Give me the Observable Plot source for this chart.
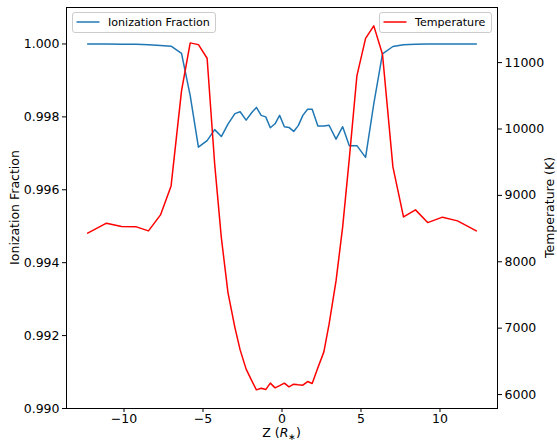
<!DOCTYPE html>
<html>
<head>
<meta charset="utf-8">
<script src="https://cdn.jsdelivr.net/npm/d3@7"></script>
<script src="https://cdn.jsdelivr.net/npm/@observablehq/plot@0.6"></script>
<style>
  html, body { margin: 0; padding: 0; background: #fff; }
  #chart { width: 557px; height: 441px; }
</style>
</head>
<body>
<div id="chart"></div>
<script>
// ---- data ----
const zValues = [-12.30, -11.11, -10.16, -9.22, -8.45, -7.69, -7.02, -6.36, -5.81, -5.29, -4.74, -4.26,
  -3.84, -3.42, -2.98, -2.65, -2.27, -1.91, -1.62, -1.32, -1.03, -0.74, -0.44, -0.15,
  0.15, 0.44, 0.74, 1.03, 1.32, 1.62, 1.91, 2.27, 2.65, 2.98, 3.42, 3.84,
  4.26, 4.74, 5.29, 5.81, 6.36, 7.02, 7.69, 8.45, 9.22, 10.16, 11.11, 12.30];

const ionFraction = [1.00000, 1.00000, 0.99999, 0.99999, 0.99998, 0.99996, 0.99994, 0.99974, 0.99858, 0.99717, 0.99735, 0.99765,
  0.99746, 0.99780, 0.99809, 0.99814, 0.99791, 0.99812, 0.99826, 0.99804, 0.99800, 0.99770, 0.99781, 0.99804,
  0.99773, 0.99771, 0.99760, 0.99776, 0.99804, 0.99821, 0.99821, 0.99775, 0.99775, 0.99777, 0.99739, 0.99773,
  0.99721, 0.99721, 0.99689, 0.99836, 0.99973, 0.99993, 0.99998, 0.99999, 1.00000, 1.00000, 1.00000, 1.00000];

const temperature = [8431, 8581, 8530, 8526, 8465, 8706, 9143, 10574, 11297, 11271, 11066, 9470,
  8364, 7536, 7009, 6673, 6383, 6206, 6071, 6096, 6075, 6172, 6101, 6134,
  6172, 6116, 6157, 6146, 6142, 6196, 6166, 6402, 6643, 7060, 7712, 8526,
  9554, 10800, 11364, 11553, 11126, 9429, 8676, 8782, 8590, 8672, 8616, 8465];

const xTicks = [-10, -5, 0, 5, 10];
const ionTicks = [0.990, 0.992, 0.994, 0.996, 0.998, 1.000];
const tempTicks = [6000, 7000, 8000, 9000, 10000, 11000];

// ---- scales ----
const xDomain = [-13.64, 13.64];
const ionDomain = [0.990, 1.001];
const tempDomain = [5790, 11830];
const toY = t => ionDomain[0] + (t - tempDomain[0]) / (tempDomain[1] - tempDomain[0]) * (ionDomain[1] - ionDomain[0]);
const fromY = y => tempDomain[0] + (y - ionDomain[0]) / (ionDomain[1] - ionDomain[0]) * (tempDomain[1] - tempDomain[0]);

const rows = zValues.map((z, i) => ({z, ion: ionFraction[i], temp: temperature[i]}));
const minus = v => (v < 0 ? "\u2212" + Math.abs(v) : String(v));

const W = 557, H = 441;
const mL = 66, mR = 60, mT = 7, mB = 33;
const font = "DejaVu Sans, sans-serif";

const plot = Plot.plot({
  width: W,
  height: H,
  marginLeft: mL,
  marginRight: mR,
  marginTop: mT,
  marginBottom: mB,
  style: {fontFamily: font, fontSize: "12.5px", color: "black", background: "white", overflow: "visible"},
  x: {domain: xDomain},
  y: {domain: ionDomain},
  marks: [
    Plot.line(rows, {x: "z", y: "ion", stroke: "#1f77b4", strokeWidth: 1.5}),
    Plot.line(rows, {x: "z", y: d => toY(d.temp), stroke: "#ff0000", strokeWidth: 1.5}),
    Plot.frame({stroke: "black", strokeWidth: 1}),
    Plot.axisX({ticks: xTicks, tickSize: 4, tickPadding: 2, tickFormat: minus, label: null, stroke: "black"}),
    Plot.axisY({ticks: ionTicks, tickSize: 4, tickPadding: 3, tickFormat: d3.format(".3f"), label: null}),
    Plot.axisY({anchor: "right", ticks: tempTicks.map(toY), tickSize: 4, tickPadding: 3,
      tickFormat: d => String(Math.round(fromY(d) / 100) * 100), label: null})
  ]
});

document.getElementById("chart").appendChild(plot);

const svg = d3.select(plot);
const cy = (mT + (H - mB)) / 2;
const cx = (mL + (W - mR)) / 2;

// axis labels
svg.append("text")
  .attr("transform", `translate(14,${cy}) rotate(-90)`)
  .attr("text-anchor", "middle").attr("dominant-baseline", "central")
  .style("font-family", font).style("font-size", "12.5px").attr("fill", "black")
  .text("Ionization Fraction");

svg.append("text")
  .attr("transform", `translate(549,${cy}) rotate(-90)`)
  .attr("text-anchor", "middle").attr("dominant-baseline", "central")
  .style("font-family", font).style("font-size", "12.5px").attr("fill", "black")
  .text("Temperature (K)");

const zl = svg.append("text")
  .attr("x", cx).attr("y", 437)
  .attr("text-anchor", "middle")
  .style("font-family", font).style("font-size", "12.5px").attr("fill", "black");
zl.append("tspan").text("Z (");
zl.append("tspan").style("font-style", "italic").text("R");
zl.append("tspan").attr("dy", 3).style("font-size", "9px").text("\u2217");
zl.append("tspan").attr("dy", -3).text(")");

// legends
function legend(x0, x1, label, color) {
  const g = svg.append("g");
  g.append("rect").attr("x", x0).attr("y", 12.5).attr("width", x1 - x0).attr("height", 20)
    .attr("rx", 2.5).attr("fill", "white").attr("fill-opacity", 0.8)
    .attr("stroke", "#cccccc").attr("stroke-width", 1);
  g.append("line").attr("x1", x0 + 4).attr("x2", x0 + 27).attr("y1", 22).attr("y2", 22)
    .attr("stroke", color).attr("stroke-width", 1.5);
  g.append("text").attr("x", x0 + 35.5).attr("y", 22)
    .attr("text-anchor", "start")
    .attr("dominant-baseline", "central")
    .style("font-family", font).style("font-size", "11.1px").attr("fill", "black")
    .text(label);
}
legend(72.5, 215.5, "Ionization Fraction", "#1f77b4");
legend(379.5, 491.5, "Temperature", "#ff0000");
</script>
</body>
</html>
